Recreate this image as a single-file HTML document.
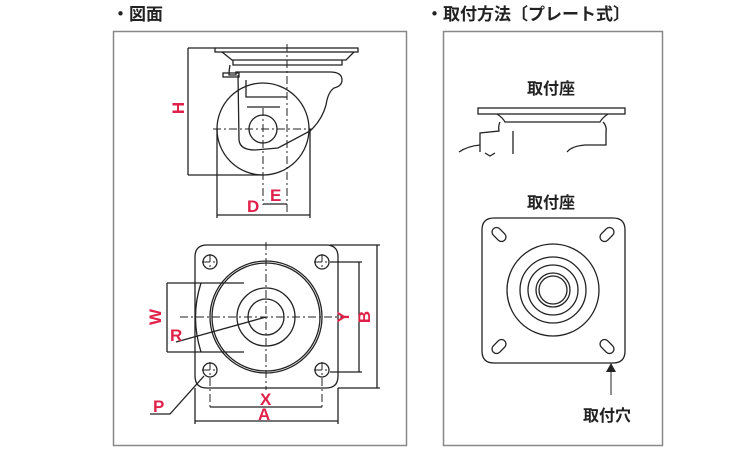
<!DOCTYPE html>
<html><head><meta charset="utf-8"><style>
html,body{margin:0;padding:0;background:#fff;width:750px;height:450px;overflow:hidden}
svg{display:block}
.t{font-family:"Liberation Sans","Noto Sans CJK JP",sans-serif;fill:#222}
.r{font-family:"Liberation Sans",sans-serif;fill:#e0224a;font-size:17px;font-weight:bold}
</style></head><body>
<svg width="750" height="450" viewBox="0 0 750 450" xmlns="http://www.w3.org/2000/svg">
<text x="112" y="20" class="t" font-size="17" font-weight="bold">・図面</text>
<text x="426" y="20" class="t" font-size="17" font-weight="bold">・取付方法〔プレート式〕</text>
<rect x="113.5" y="31.5" width="293" height="414" fill="none" stroke="#888" stroke-width="1.5"/>
<rect x="443.5" y="31.5" width="219" height="414" fill="none" stroke="#888" stroke-width="1.5"/>

<g fill="none" stroke="#222" stroke-width="1.3">
<rect x="215" y="48" width="143" height="4"/>
<path d="M222 52 L232 60 L346 60 L354 52"/>
<path d="M233 60 L233 65 L342 65 L342 60"/>
<path d="M230 65 Q229 70 229 75 L236 75 L236 72 L330 72 Q342 72 342 80 Q342 86 334 88 Q328 92 326 105 Q322 120 310 131 L278 148 L255 150 Q240 150 239 140 L238 75"/>
<rect x="223" y="73" width="16" height="4"/>
<path d="M246 80 L246 97 L287 97"/>
<path d="M247 107 L280 107"/>
<circle cx="263" cy="129" r="46"/>
<circle cx="263" cy="129" r="14"/>
<g stroke-dasharray="8 3 2 3" stroke-width="1">
<line x1="287" y1="44" x2="287" y2="215"/>
<line x1="213" y1="129" x2="312" y2="129"/>
<line x1="263" y1="108" x2="263" y2="205"/>
</g>
<line x1="188" y1="48" x2="215" y2="48"/>
<line x1="188" y1="48" x2="188" y2="175"/>
<line x1="188" y1="175" x2="263" y2="175"/>
<line x1="217" y1="129" x2="217" y2="218"/>
<line x1="310" y1="129" x2="310" y2="218"/>
<line x1="217" y1="215" x2="310" y2="215"/>
<line x1="263" y1="204" x2="287" y2="204"/>

<path d="M207 245 H326 Q338 245 338 257 V376 Q338 388 326 388 H207 Q195 388 195 376 V257 Q195 245 207 245 Z"/>
<circle cx="266" cy="317" r="56"/>
<circle cx="266" cy="317" r="54"/>
<circle cx="266" cy="317" r="29"/>
<circle cx="266" cy="317" r="18"/>
<circle cx="210" cy="262" r="7"/><circle cx="322" cy="262" r="7"/>
<circle cx="210" cy="370" r="7"/><circle cx="322" cy="370" r="7"/>
<path d="M201 283 Q190 317 201 352"/>
<line x1="167" y1="283" x2="244" y2="283"/>
<line x1="167" y1="352" x2="244" y2="352"/>
<line x1="167" y1="283" x2="167" y2="352"/>
<line x1="176" y1="342" x2="266" y2="317"/>
<g stroke-dasharray="8 3 2 3" stroke-width="1">
<line x1="266" y1="242" x2="266" y2="390"/>
<line x1="180" y1="317" x2="350" y2="317"/>
<line x1="202" y1="262" x2="218" y2="262"/><line x1="210" y1="254" x2="210" y2="270"/>
<line x1="314" y1="262" x2="330" y2="262"/><line x1="322" y1="254" x2="322" y2="270"/>
<line x1="202" y1="370" x2="218" y2="370"/><line x1="210" y1="362" x2="210" y2="410"/>
<line x1="314" y1="370" x2="330" y2="370"/><line x1="322" y1="362" x2="322" y2="410"/>
</g>
<line x1="330" y1="245" x2="380" y2="245"/>
<line x1="338" y1="388" x2="380" y2="388"/>
<line x1="377" y1="245" x2="377" y2="388"/>
<line x1="330" y1="262" x2="362" y2="262"/>
<line x1="330" y1="372" x2="362" y2="372"/>
<line x1="359" y1="262" x2="359" y2="372"/>
<line x1="210" y1="407" x2="322" y2="407"/>
<line x1="195" y1="388" x2="195" y2="424"/>
<line x1="338" y1="388" x2="338" y2="424"/>
<line x1="195" y1="421" x2="338" y2="421"/>
<path d="M204 376 L170 414 L150 414"/>

<rect x="478" y="108" width="147" height="6"/>
<path d="M497 114 Q503 118 505 122 L600 122 Q602 118 608 114"/>
<path d="M500 122 Q498 126 499 131 L480 133 L480 152"/>
<path d="M459 152 Q468 146 480 145"/>
<line x1="513" y1="131" x2="513" y2="154"/>
<path d="M485 153 L490 156 L495 153"/>
<path d="M603 122 Q607 126 606 132 L606 145 L585 145 Q572 146 567 152"/>

<path d="M494 218 H613 Q625 218 625 230 V351 Q625 363 613 363 H494 Q482 363 482 351 V230 Q482 218 494 218 Z"/>
<circle cx="553" cy="290" r="46"/>
<circle cx="553" cy="290" r="33"/>
<circle cx="553" cy="290" r="25"/>
<circle cx="553" cy="290" r="17"/>
<circle cx="553" cy="290" r="14"/>
<rect x="491" y="230" width="16" height="9" rx="4.5" transform="rotate(45 499 234.5)"/>
<rect x="599" y="230" width="16" height="9" rx="4.5" transform="rotate(-45 607 234.5)"/>
<rect x="491" y="342" width="16" height="9" rx="4.5" transform="rotate(-45 499 346.5)"/>
<rect x="599" y="342" width="16" height="9" rx="4.5" transform="rotate(45 607 346.5)"/>
<line x1="611" y1="370" x2="611" y2="395" stroke="#555"/>
</g>
<polygon points="611,363 606,372 616,372" fill="#222"/>

<text x="178" y="114" class="r" text-anchor="middle" transform="rotate(-90 178 108)">H</text>
<text x="247" y="212" class="r">D</text>
<text x="270" y="201" class="r">E</text>
<text x="155" y="323" class="r" text-anchor="middle" transform="rotate(-90 155 317)">W</text>
<text x="170" y="341" class="r">R</text>
<text x="343" y="323" class="r" text-anchor="middle" transform="rotate(-90 343 317)">Y</text>
<text x="364" y="323" class="r" text-anchor="middle" transform="rotate(-90 364 317)">B</text>
<text x="260" y="405" class="r">X</text>
<text x="258" y="420" class="r">A</text>
<text x="153" y="412" class="r">P</text>

<text x="527" y="94" class="t" font-size="16" font-weight="bold">取付座</text>
<text x="527" y="208" class="t" font-size="16" font-weight="bold">取付座</text>
<text x="583" y="421" class="t" font-size="16" font-weight="bold">取付穴</text>
</svg>
</body></html>
